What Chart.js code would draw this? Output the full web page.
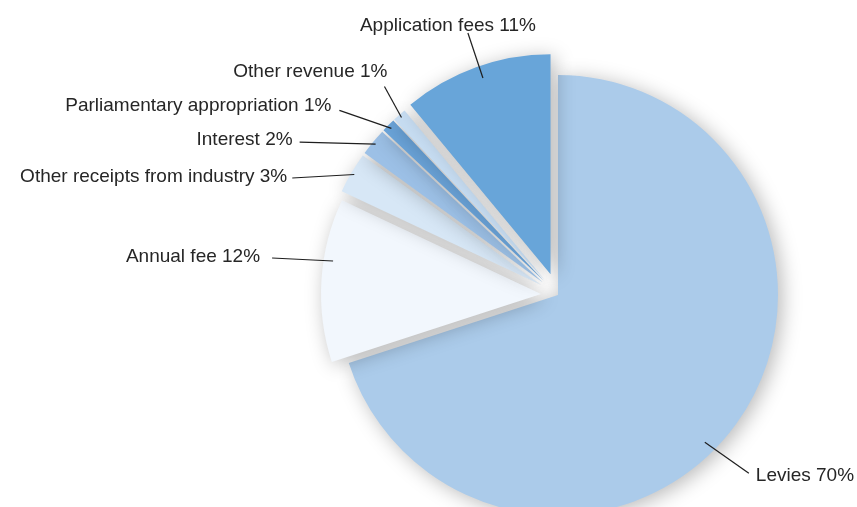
<!DOCTYPE html>
<html>
<head>
<meta charset="utf-8">
<script src="https://cdn.jsdelivr.net/npm/chart.js@4/dist/chart.umd.min.js"></script>
<style>
  html, body { margin: 0; padding: 0; background: #fff; }
  #wrap { width: 857px; height: 507px; position: relative; }
</style>
</head>
<body>
<div id="wrap"><canvas id="pieChart"></canvas></div>
<script>
// revenue shares, clockwise from 12 o'clock
const CATEGORIES = ['Levies', 'Annual fee', 'Other receipts from industry', 'Interest',
  'Parliamentary appropriation', 'Other revenue', 'Application fees'];
const SHARES = [70, 12, 3, 2, 1, 1, 11];

const SLICE_COLORS = ['#abcbea', '#f2f7fd', '#d7e7f6', '#9cc0e6', '#6aa3d8', '#c6dcf1', '#68a5d9'];
// how far each slice is pulled out from the centre (px)
const EXPLODE = [0, 17, 20, 20, 20, 20, 22];

// where each label sits: point inside the slice (angle fraction, radius fraction),
// then the leader line start relative to that point, then text relative to line start
const LABEL_LAYOUT = [
  { frac: 0.536, rad: 0.945, ldx: 44, ldy: 31, tdx: 7, tdy: 3, align: 'left' },
  { frac: 0.625, rad: 0.957, ldx: -61, ldy: -3, tdx: -12, tdy: -1, align: 'right' },
  { frac: 0.5, rad: 0.985, ldx: -62, ldy: 3.5, tdx: -5, tdy: -1, align: 'right' },
  { frac: 0.5, rad: 0.985, ldx: -76, ldy: -2, tdx: -7, tdy: -2, align: 'right' },
  { frac: 0.5, rad: 0.98, ldx: -52, ldy: -18, tdx: -8, tdy: -5, align: 'right' },
  { frac: 0.5, rad: 0.985, ldx: -17, ldy: -31, tdx: 3, tdy: -15, align: 'right' },
  { frac: 0.52, rad: 0.944, ldx: -15, ldy: -45, tdx: -20, tdy: -7, align: 'center' }
];

const explodePlugin = {
  id: 'explode',
  afterDatasetUpdate(chart, args) {
    args.meta.data.forEach((arc, i) => {
      const mid = (arc.startAngle + arc.endAngle) / 2;
      arc.x += Math.cos(mid) * EXPLODE[i];
      arc.y += Math.sin(mid) * EXPLODE[i];
    });
  }
};

const shadowPlugin = {
  id: 'sliceShadow',
  beforeDatasetDraw(chart) {
    const ctx = chart.ctx;
    ctx.save();
    ctx.shadowColor = 'rgba(0,0,0,0.28)';
    ctx.shadowBlur = 20;
    ctx.shadowOffsetX = 4;
    ctx.shadowOffsetY = 3;
  },
  afterDatasetDraw(chart) {
    chart.ctx.restore();
  }
};

const labelPlugin = {
  id: 'leaderLabels',
  afterDraw(chart) {
    const ctx = chart.ctx;
    const arcs = chart.getDatasetMeta(0).data;
    ctx.save();
    ctx.font = '19px "Liberation Sans", Arial, sans-serif';
    ctx.fillStyle = '#262626';
    ctx.strokeStyle = '#1e1e1e';
    ctx.lineWidth = 1.2;
    ctx.textBaseline = 'middle';
    arcs.forEach((arc, i) => {
      const lay = LABEL_LAYOUT[i];
      const ang = arc.startAngle + (arc.endAngle - arc.startAngle) * lay.frac;
      const r = arc.outerRadius * lay.rad;
      const ax = arc.x + Math.cos(ang) * r;
      const ay = arc.y + Math.sin(ang) * r;
      const sx = ax + lay.ldx;
      const sy = ay + lay.ldy;
      ctx.beginPath();
      ctx.moveTo(sx, sy);
      ctx.lineTo(ax, ay);
      ctx.stroke();
      ctx.textAlign = lay.align;
      ctx.fillText(CATEGORIES[i] + ' ' + SHARES[i] + '%', sx + lay.tdx, sy + lay.tdy);
    });
    ctx.restore();
  }
};

new Chart(document.getElementById('pieChart').getContext('2d'), {
  type: 'pie',
  data: {
    labels: CATEGORIES,
    datasets: [{
      data: SHARES,
      backgroundColor: SLICE_COLORS,
      borderWidth: 0,
      radius: 220,
      clip: false
    }]
  },
  options: {
    responsive: true,
    maintainAspectRatio: false,
    animation: false,
    layout: { padding: { left: 259, right: 0, top: 83, bottom: 0 } },
    plugins: {
      legend: { display: false },
      tooltip: { enabled: false }
    }
  },
  plugins: [explodePlugin, shadowPlugin, labelPlugin]
});
</script>
</body>
</html>
